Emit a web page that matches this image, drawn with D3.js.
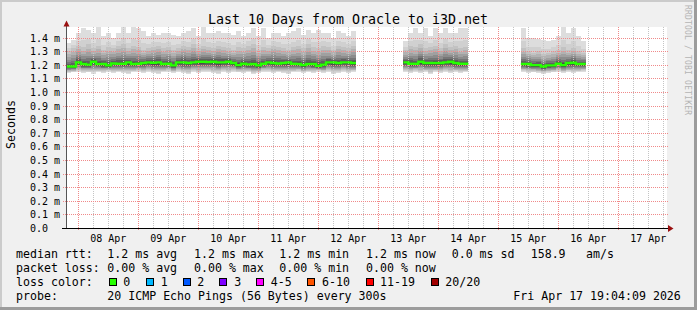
<!DOCTYPE html>
<html><head><meta charset="utf-8">
<script src="https://cdn.jsdelivr.net/npm/d3@7"></script>
<style>html,body{margin:0;padding:0;background:#f0f0f0;} svg{display:block;}</style>
</head><body><svg id="c" width="697" height="310"></svg>
<script>
// ---------- data ----------
const title = "Last 10 Days from Oracle to i3D.net";
const yTickValues = [0,0.1,0.2,0.3,0.4,0.5,0.6,0.7,0.8,0.9,1.0,1.1,1.2,1.3,1.4]; // ms
const yTickLabels = ["0.0","0.1 m","0.2 m","0.3 m","0.4 m","0.5 m","0.6 m","0.7 m","0.8 m","0.9 m","1.0 m","1.1 m","1.2 m","1.3 m","1.4 m"];
const xDayLabels = ["08 Apr","09 Apr","10 Apr","11 Apr","12 Apr","13 Apr","14 Apr","15 Apr","16 Apr","17 Apr"];
const rangeStart = "2026-04-07T19:04:09Z";
const rangeEnd = "2026-04-17T19:04:09Z";
const stepHours = 2;

const seg1Start = "2026-04-07T19:04:09Z";
const seg1Median = [1.188,1.188,1.218,1.206,1.201,1.223,1.206,1.206,1.196,1.210,
  1.208,1.208,1.218,1.206,1.208,1.213,1.218,1.215,1.218,1.206,
  1.208,1.196,1.218,1.218,1.213,1.218,1.223,1.223,1.220,1.223,
  1.218,1.218,1.223,1.213,1.198,1.208,1.203,1.206,1.196,1.208,
  1.218,1.213,1.210,1.213,1.218,1.208,1.206,1.198,1.206,1.206,
  1.193,1.201,1.218,1.218,1.213,1.218,1.218,1.213];
const seg1Max = [1.360,1.385,1.434,1.470,1.458,1.434,1.478,1.409,1.434,1.397,
  1.434,1.478,1.434,1.478,1.470,1.445,1.409,1.434,1.420,1.434,
  1.434,1.420,1.409,1.434,1.445,1.470,1.409,1.478,1.434,1.434,
  1.445,1.434,1.434,1.420,1.445,1.409,1.434,1.470,1.409,1.470,
  1.397,1.434,1.434,1.409,1.434,1.445,1.470,1.420,1.458,1.434,
  1.458,1.434,1.434,1.397,1.445,1.434,1.409,1.445];
const seg1High = [1.30,1.32,1.34,1.33,1.35,1.32,1.34,1.31,1.33,1.32,
  1.34,1.35,1.32,1.34,1.33,1.31,1.32,1.33,1.34,1.32,
  1.33,1.31,1.32,1.34,1.33,1.35,1.32,1.34,1.33,1.32,
  1.34,1.33,1.32,1.31,1.33,1.32,1.34,1.35,1.31,1.33,
  1.32,1.34,1.33,1.32,1.31,1.33,1.34,1.32,1.35,1.33,
  1.32,1.34,1.33,1.31,1.34,1.33,1.32,1.34];
const seg1Min = [1.140,1.145,1.150,1.140,1.145,1.135,1.145,1.140,1.150,1.140,
  1.145,1.140,1.135,1.145,1.150,1.140,1.145,1.140,1.135,1.145,
  1.150,1.140,1.145,1.140,1.135,1.145,1.140,1.150,1.145,1.140,
  1.135,1.145,1.140,1.150,1.145,1.140,1.145,1.135,1.140,1.150,
  1.145,1.140,1.145,1.140,1.135,1.145,1.150,1.140,1.145,1.140,
  1.150,1.140,1.145,1.135,1.140,1.145,1.140,1.145];

const seg2Start = "2026-04-13T10:00:00Z";
const seg2Median = [1.218,1.208,1.208,1.223,1.213,1.213,1.213,1.213,1.218,1.223,1.213,1.208,1.208];
const seg2Max = [1.372,1.434,1.470,1.434,1.470,1.409,1.470,1.434,1.470,1.434,1.434,1.470,1.470];
const seg2High = [1.31,1.34,1.33,1.35,1.32,1.33,1.34,1.32,1.35,1.33,1.34,1.32,1.33];
const seg2Min = [1.145,1.140,1.150,1.140,1.145,1.135,1.145,1.140,1.150,1.140,1.145,1.140,1.145];

const seg3Start = "2026-04-15T09:00:00Z";
const seg3Median = [1.206,1.206,1.198,1.198,1.188,1.196,1.196,1.208,1.198,1.213,1.215,1.206,1.206];
const seg3Max = [1.470,1.397,1.397,1.390,1.385,1.372,1.385,1.409,1.478,1.434,1.470,1.409,1.372];
const seg3High = [1.32,1.30,1.29,1.30,1.28,1.29,1.30,1.31,1.33,1.31,1.32,1.30,1.29];
const seg3Min = [1.150,1.140,1.145,1.140,1.135,1.140,1.145,1.150,1.140,1.145,1.140,1.145,1.150];

const legendRtt = ["median rtt:","1.2 ms avg","1.2 ms max","1.2 ms min","1.2 ms now","0.0 ms sd","158.9","am/s"];
const legendLoss = ["packet loss:","0.00 % avg","0.00 % max","0.00 % min","0.00 % now"];
const lossLabels = ["0","1","2","3","4-5","6-10","11-19","20/20"];
const lossColors = ["#26ff00","#00b8ff","#0059ff","#7e00ff","#ff00ff","#ff5500","#ff0000","#a10000"];
const probeText = ["probe:","20 ICMP Echo Pings (56 Bytes) every 300s","Fri Apr 17 19:04:09 2026"];
const sideText = "RRDTOOL / TOBI OETIKER";

// ---------- layout ----------
const W = 697, H = 310;
const L = 66, R = 666, T = 27, B = 228;
const svg = d3.select("#c");
const mono = "'DejaVu Sans Mono', monospace";

svg.append("rect").attr("width",W).attr("height",H).attr("fill","#f0f0f0");
svg.append("rect").attr("x",0).attr("y",0).attr("width",W).attr("height",2).attr("fill","#cbcbcb");
svg.append("rect").attr("x",0).attr("y",0).attr("width",2).attr("height",H).attr("fill","#cbcbcb");
svg.append("rect").attr("x",W-3).attr("y",0).attr("width",3).attr("height",H).attr("fill","#9c9c9c");
svg.append("rect").attr("x",0).attr("y",H-3).attr("width",W).attr("height",3).attr("fill","#9c9c9c");

const x = d3.scaleUtc().domain([new Date(rangeStart), new Date(rangeEnd)]).range([L, R]);
const y = d3.scaleLinear().domain([0, 1.478]).range([B, T]);

svg.append("rect").attr("x",L).attr("y",T).attr("width",R-L+1).attr("height",B-T).attr("fill","#ffffff");

const px = v => Math.round(v) + 0.5;

// smoke
const segs = [
  {start: seg1Start, med: seg1Median, max: seg1Max, high: seg1High, min: seg1Min},
  {start: seg2Start, med: seg2Median, max: seg2Max, high: seg2High, min: seg2Min},
  {start: seg3Start, med: seg3Median, max: seg3Max, high: seg3High, min: seg3Min}
];
const shades = [221,208,194,178,160,140,118,96,76,56];
const gSmoke = svg.append("g").attr("shape-rendering","crispEdges");
segs.forEach(s => {
  const t0 = new Date(s.start).getTime();
  s.med.forEach((m, k) => {
    const ta = new Date(t0 + k*stepHours*3600e3), tb = new Date(t0 + (k+1)*stepHours*3600e3);
    const xa = Math.round(x(ta)), xb = Math.round(x(tb));
    shades.forEach((c, i) => {
      let hi, lo;
      if (i === 0) hi = s.max[k];
      else if (i === 1) hi = s.high[k] + (s.max[k]-s.high[k])*0.35;
      else hi = m + (s.high[k] - m)*Math.pow(1 - (i-2)/8, 1.7);
      lo = s.min[k] + (m - s.min[k])*(i/10);
      const ya = Math.round(y(hi)), yb = Math.round(y(lo));
      gSmoke.append("rect").attr("x",xa).attr("width",Math.max(1,xb-xa))
        .attr("y",ya).attr("height",Math.max(1,yb-ya))
        .attr("fill",`rgb(${c},${c},${c})`);
    });
  });
});

// grid
const gGrid = svg.append("g").attr("shape-rendering","crispEdges");
const t0 = new Date(rangeStart), t1 = new Date(rangeEnd);
d3.utcHour.every(6).range(t0, t1).forEach(t => {
  const major = t.getUTCHours() === 0;
  gGrid.append("line").attr("x1",px(x(t))).attr("x2",px(x(t))).attr("y1",T).attr("y2",B+(major?2:0))
    .attr("stroke", major ? "#f08a8a" : "#c4c4c4").attr("stroke-dasharray","1,1");
});
yTickValues.forEach((v,i) => {
  if (i === 0) return;
  gGrid.append("line").attr("x1",L-3).attr("x2",R+3).attr("y1",px(y(v))).attr("y2",px(y(v)))
    .attr("stroke","#f08a8a").attr("stroke-dasharray","1,1");
});

// median line
segs.forEach(s => {
  const t0s = new Date(s.start).getTime();
  const pts = s.med.map((m,k) => [new Date(t0s + k*stepHours*3600e3), m]);
  pts.push([new Date(t0s + s.med.length*stepHours*3600e3), s.med[s.med.length-1]]);
  svg.append("path").datum(pts)
    .attr("d", d3.line().x(d => x(d[0])).y(d => y(d[1])).curve(d3.curveStepAfter))
    .attr("fill","none").attr("stroke","#26ff00").attr("stroke-width",2.4);
});

// axes
svg.append("line").attr("x1",px(L)).attr("x2",px(L)).attr("y1",B).attr("y2",24)
  .attr("stroke","#555").attr("shape-rendering","crispEdges");
svg.append("line").attr("x1",L-4).attr("x2",R+3).attr("y1",B+0.5).attr("y2",B+0.5)
  .attr("stroke","#000").attr("shape-rendering","crispEdges");
svg.append("path").attr("d",`M${L-2.5},26.5 L${L+3.5},26.5 L${L+0.5},20.5 Z`).attr("fill","#9a1010");
svg.append("path").attr("d",`M${R+2},225 L${R+2},232 L${R+7.5},228.5 Z`).attr("fill","#9a1010");

// y labels
yTickValues.forEach((v,i) => {
  svg.append("text").attr("x",30).attr("y",px(y(v))+3.3).text(yTickLabels[i])
    .attr("font-family",mono).attr("font-size","10px").attr("fill","#000");
});
// x labels
xDayLabels.forEach((lab,i) => {
  const t = new Date(Date.UTC(2026,3,8+i,12));
  svg.append("text").attr("x",x(t)).attr("y",241.5).attr("text-anchor","middle").text(lab)
    .attr("font-family",mono).attr("font-size","10px").attr("fill","#000");
});

svg.append("text").attr("x",348).attr("y",24).attr("text-anchor","middle").text(title)
  .attr("font-family",mono).attr("font-size","13.3px").attr("fill","#000");
svg.append("text").attr("transform","translate(15,124.5) rotate(-90)").attr("text-anchor","middle")
  .text("Seconds").attr("font-family",mono).attr("font-size","11.6px").attr("fill","#000");
svg.append("text").attr("transform","translate(685,5) rotate(90)").text(sideText)
  .attr("font-family",mono).attr("font-size","8px").attr("fill","#b4b4b4")
  .attr("textLength",110).attr("lengthAdjust","spacing");

// legend
const legFont = "11.6px";
const addT = (tx, xx, yy) => svg.append("text").attr("x",xx).attr("y",yy).text(tx)
  .attr("font-family",mono).attr("font-size",legFont).attr("fill","#000").attr("xml:space","preserve");
const rttX = [16,107.3,194,279.3,366,451.7,530.7,586];
legendRtt.forEach((t,i) => addT(t, rttX[i], 258.3));
legendLoss.forEach((t,i) => addT(t, rttX[i], 272.3));
addT("loss color:", 16, 286.2);
const boxX = [109,146,182.7,219.3,256,307.3,365.7,430.7];
const labX = [123.3,160.7,197.3,234.3,270.7,322,380,445.3];
lossLabels.forEach((lab,i) => {
  svg.append("rect").attr("x",Math.round(boxX[i])+0.5).attr("y",278.5).attr("width",7).attr("height",7)
    .attr("fill",lossColors[i]).attr("stroke","#000").attr("shape-rendering","crispEdges");
  addT(lab, labX[i], 286.2);
});
addT(probeText[0], 16, 300);
addT(probeText[1], 107.3, 300);
addT(probeText[2], 513.3, 300);
</script></body></html>
